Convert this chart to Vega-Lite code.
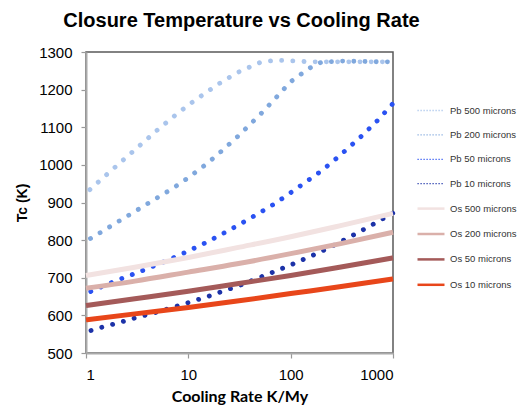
{
  "$schema": "https://vega.github.io/schema/vega-lite/v6.json",
  "autosize": {"type": "none"},
  "width": 307,
  "height": 301,
  "padding": {"left": 86, "top": 52, "right": 129, "bottom": 62},
  "background": "white",
  "title": {"text": "Closure Temperature vs Cooling Rate", "font": "Liberation Sans", "fontSize": 20, "fontWeight": "bold", "color": "#000", "anchor": "middle", "offset": 14, "dx": 2},
  "config": {
    "view": {"stroke": "#5a5a5a", "strokeWidth": 1.5},
    "axis": {"grid": false, "labelFont": "Liberation Sans", "labelFontSize": 15, "labelColor": "#000", "tickColor": "#999", "domainColor": "#aaa", "domainWidth": 2, "tickSize": 5, "tickWidth": 1.2, "titleColor": "#000"},
    "legend": {"title": null, "orient": "none", "legendX": 330, "legendY": 44, "padding": 0, "symbolType": "stroke", "symbolSize": 729, "symbolStrokeWidth": 2.5, "rowPadding": 5.4, "labelFont": "Liberation Sans", "labelFontSize": 9.5, "labelColor": "#333"}
  },
  "datasets": {
    "pb": [
      {"series": "Pb 500 microns", "rate": 1, "T": 925}, {"series": "Pb 500 microns", "rate": 1.5, "T": 968}, {"series": "Pb 500 microns", "rate": 2, "T": 998}, {"series": "Pb 500 microns", "rate": 3, "T": 1040}, {"series": "Pb 500 microns", "rate": 5, "T": 1093}, {"series": "Pb 500 microns", "rate": 7, "T": 1126}, {"series": "Pb 500 microns", "rate": 10, "T": 1159}, {"series": "Pb 500 microns", "rate": 15, "T": 1193}, {"series": "Pb 500 microns", "rate": 20, "T": 1216}, {"series": "Pb 500 microns", "rate": 30, "T": 1245}, {"series": "Pb 500 microns", "rate": 50, "T": 1272}, {"series": "Pb 500 microns", "rate": 70, "T": 1278}, {"series": "Pb 500 microns", "rate": 100, "T": 1277}, {"series": "Pb 500 microns", "rate": 150, "T": 1274}, {"series": "Pb 500 microns", "rate": 200, "T": 1274}, {"series": "Pb 500 microns", "rate": 300, "T": 1274}, {"series": "Pb 500 microns", "rate": 500, "T": 1274}, {"series": "Pb 500 microns", "rate": 700, "T": 1274}, {"series": "Pb 500 microns", "rate": 1000, "T": 1274},
      {"series": "Pb 200 microns", "rate": 1, "T": 797}, {"series": "Pb 200 microns", "rate": 1.5, "T": 826}, {"series": "Pb 200 microns", "rate": 2, "T": 847}, {"series": "Pb 200 microns", "rate": 3, "T": 876}, {"series": "Pb 200 microns", "rate": 5, "T": 913}, {"series": "Pb 200 microns", "rate": 7, "T": 937}, {"series": "Pb 200 microns", "rate": 10, "T": 966}, {"series": "Pb 200 microns", "rate": 15, "T": 1002}, {"series": "Pb 200 microns", "rate": 20, "T": 1031}, {"series": "Pb 200 microns", "rate": 30, "T": 1074}, {"series": "Pb 200 microns", "rate": 50, "T": 1133}, {"series": "Pb 200 microns", "rate": 70, "T": 1175}, {"series": "Pb 200 microns", "rate": 100, "T": 1221}, {"series": "Pb 200 microns", "rate": 150, "T": 1256}, {"series": "Pb 200 microns", "rate": 200, "T": 1273}, {"series": "Pb 200 microns", "rate": 300, "T": 1276}, {"series": "Pb 200 microns", "rate": 500, "T": 1275}, {"series": "Pb 200 microns", "rate": 700, "T": 1274}, {"series": "Pb 200 microns", "rate": 1000, "T": 1274},
      {"series": "Pb 50 microns", "rate": 1, "T": 658}, {"series": "Pb 50 microns", "rate": 1.5, "T": 679}, {"series": "Pb 50 microns", "rate": 2, "T": 693}, {"series": "Pb 50 microns", "rate": 3, "T": 711}, {"series": "Pb 50 microns", "rate": 5, "T": 735}, {"series": "Pb 50 microns", "rate": 7, "T": 752}, {"series": "Pb 50 microns", "rate": 10, "T": 771}, {"series": "Pb 50 microns", "rate": 15, "T": 794}, {"series": "Pb 50 microns", "rate": 20, "T": 812}, {"series": "Pb 50 microns", "rate": 30, "T": 838}, {"series": "Pb 50 microns", "rate": 50, "T": 873}, {"series": "Pb 50 microns", "rate": 70, "T": 897}, {"series": "Pb 50 microns", "rate": 100, "T": 926}, {"series": "Pb 50 microns", "rate": 150, "T": 960}, {"series": "Pb 50 microns", "rate": 200, "T": 984}, {"series": "Pb 50 microns", "rate": 300, "T": 1024}, {"series": "Pb 50 microns", "rate": 500, "T": 1078}, {"series": "Pb 50 microns", "rate": 700, "T": 1117}, {"series": "Pb 50 microns", "rate": 1000, "T": 1163},
      {"series": "Pb 10 microns", "rate": 1, "T": 556}, {"series": "Pb 10 microns", "rate": 1.5, "T": 570}, {"series": "Pb 10 microns", "rate": 2, "T": 579}, {"series": "Pb 10 microns", "rate": 3, "T": 593}, {"series": "Pb 10 microns", "rate": 5, "T": 609}, {"series": "Pb 10 microns", "rate": 7, "T": 621}, {"series": "Pb 10 microns", "rate": 10, "T": 634}, {"series": "Pb 10 microns", "rate": 15, "T": 649}, {"series": "Pb 10 microns", "rate": 20, "T": 661}, {"series": "Pb 10 microns", "rate": 30, "T": 677}, {"series": "Pb 10 microns", "rate": 50, "T": 701}, {"series": "Pb 10 microns", "rate": 70, "T": 717}, {"series": "Pb 10 microns", "rate": 100, "T": 734}, {"series": "Pb 10 microns", "rate": 150, "T": 755}, {"series": "Pb 10 microns", "rate": 200, "T": 770}, {"series": "Pb 10 microns", "rate": 300, "T": 794}, {"series": "Pb 10 microns", "rate": 500, "T": 826}, {"series": "Pb 10 microns", "rate": 700, "T": 848}, {"series": "Pb 10 microns", "rate": 1000, "T": 872}
    ],
    "os": [
      {"series": "Os 500 microns", "rate": 1, "T": 706}, {"series": "Os 500 microns", "rate": 3, "T": 728}, {"series": "Os 500 microns", "rate": 10, "T": 754}, {"series": "Os 500 microns", "rate": 30, "T": 780}, {"series": "Os 500 microns", "rate": 100, "T": 809}, {"series": "Os 500 microns", "rate": 300, "T": 838}, {"series": "Os 500 microns", "rate": 1000, "T": 871},
      {"series": "Os 200 microns", "rate": 1, "T": 672}, {"series": "Os 200 microns", "rate": 3, "T": 691}, {"series": "Os 200 microns", "rate": 10, "T": 715}, {"series": "Os 200 microns", "rate": 30, "T": 737}, {"series": "Os 200 microns", "rate": 100, "T": 764}, {"series": "Os 200 microns", "rate": 300, "T": 790}, {"series": "Os 200 microns", "rate": 1000, "T": 821},
      {"series": "Os 50 microns", "rate": 1, "T": 626}, {"series": "Os 50 microns", "rate": 3, "T": 644}, {"series": "Os 50 microns", "rate": 10, "T": 664}, {"series": "Os 50 microns", "rate": 30, "T": 684}, {"series": "Os 50 microns", "rate": 100, "T": 706}, {"series": "Os 50 microns", "rate": 300, "T": 728}, {"series": "Os 50 microns", "rate": 1000, "T": 753},
      {"series": "Os 10 microns", "rate": 1, "T": 588}, {"series": "Os 10 microns", "rate": 3, "T": 604}, {"series": "Os 10 microns", "rate": 10, "T": 621}, {"series": "Os 10 microns", "rate": 30, "T": 638}, {"series": "Os 10 microns", "rate": 100, "T": 658}, {"series": "Os 10 microns", "rate": 300, "T": 676}, {"series": "Os 10 microns", "rate": 1000, "T": 697}
    ]
  },
  "encoding": {
    "x": {"field": "rate", "type": "quantitative", "scale": {"type": "log", "domain": [1, 1000], "nice": false},
      "axis": {"values": [1, 10, 100, 1000], "format": "d", "labelPadding": 9, "title": "Cooling Rate K/My", "titleFont": "Lato", "titleFontSize": 16, "titleFontWeight": "bold", "titlePadding": 6}},
    "y": {"field": "T", "type": "quantitative", "scale": {"domain": [500, 1300], "nice": false, "zero": false},
      "axis": {"values": [500, 600, 700, 800, 900, 1000, 1100, 1200, 1300], "format": "d", "labelPadding": 9, "title": "Tc (K)", "titleFont": "Liberation Sans", "titleFontSize": 14, "titleFontWeight": "bold", "titlePadding": 9}},
    "color": {"field": "series", "type": "nominal",
      "scale": {"domain": ["Pb 500 microns", "Pb 200 microns", "Pb 50 microns", "Pb 10 microns", "Os 500 microns", "Os 200 microns", "Os 50 microns", "Os 10 microns"],
        "range": ["#aac5ec", "#80a8dd", "#2a52f2", "#1c32a8", "#f2e2e1", "#dab0aa", "#a45a59", "#e8461a"]},
      "legend": {"title": null}
    }
  },
  "layer": [
    {"data": {"name": "pb"}, "mark": {"type": "line", "interpolate": "linear", "strokeWidth": 4.8, "strokeCap": "round", "strokeJoin": "round", "strokeDash": [0.1, 11.1], "strokeDashOffset": 6}},
    {"data": {"name": "os"}, "mark": {"type": "line", "interpolate": "monotone", "strokeWidth": 5}},
    {"data": {"values": []}, "mark": {"type": "line"},
      "encoding": {
        "strokeDash": {"field": "series", "type": "nominal",
          "scale": {"domain": ["Pb 500 microns", "Pb 200 microns", "Pb 50 microns", "Pb 10 microns", "Os 500 microns", "Os 200 microns", "Os 50 microns", "Os 10 microns"],
            "range": [[1.2, 1.8], [1.2, 1.8], [1.2, 1.8], [1.2, 1.8], [100, 0], [100, 0], [100, 0], [100, 0]]},
          "legend": {"title": null}},
        "strokeWidth": {"field": "series", "type": "nominal",
          "scale": {"type": "ordinal", "domain": ["Pb 500 microns", "Pb 200 microns", "Pb 50 microns", "Pb 10 microns", "Os 500 microns", "Os 200 microns", "Os 50 microns", "Os 10 microns"],
            "range": [1.3, 1.3, 1.3, 1.3, 2.5, 2.5, 2.5, 2.5]},
          "legend": {"title": null}}
      }}
  ]
}
